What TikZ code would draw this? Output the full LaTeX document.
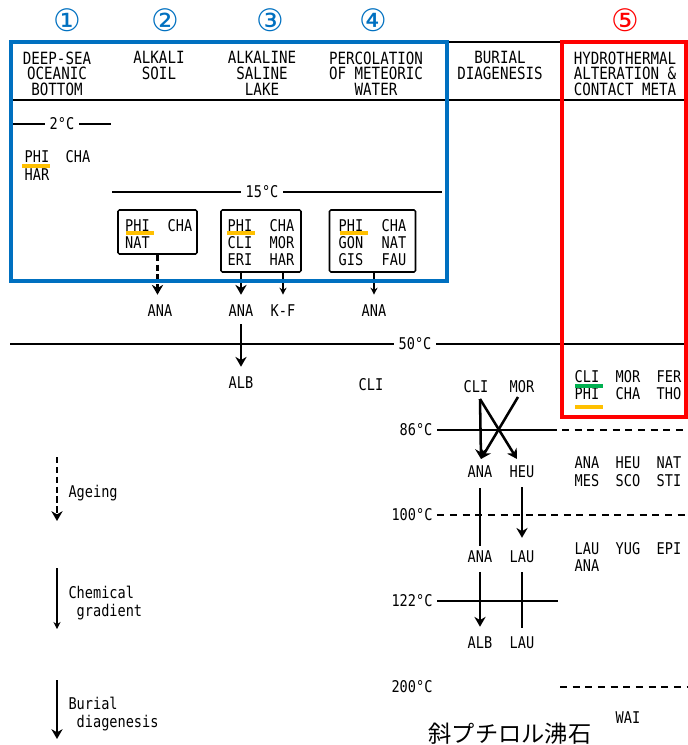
\documentclass[tikz,border=0pt]{standalone}
\usepackage{fontspec}
\newfontfamily\typo[FakeStretch=0.84]{DejaVu Sans Mono}
\newfontfamily\circfont{DejaVu Sans}
\newfontfamily\jpfont{Noto Sans CJK JP}
\usetikzlibrary{arrows.meta, positioning}
\definecolor{cblue}{HTML}{0070C0}
\definecolor{cred}{HTML}{FF0000}
\definecolor{cyellow}{HTML}{FFC000}
\definecolor{cgreen}{HTML}{00B050}
\tikzset{
  every picture/.style={line width=0.8pt},
  mine/.style={font=\typo\fontsize{11.5}{12.5}\selectfont, inner sep=1pt},
  hdr/.style={font=\typo\fontsize{12}{11.2}\selectfont, align=center, anchor=north, inner sep=0pt},
  note/.style={font=\typo\fontsize{11.5}{12.8}\selectfont, align=left, anchor=west, inner sep=0pt},
  temp/.style={mine, inner sep=3pt},
  circnum/.style={font=\circfont\fontsize{22}{22}\selectfont, inner sep=0pt},
  zbox/.style={draw, line width=1.1pt, rounded corners=1pt},
  rule/.style={line width=1.1pt},
  dashrule/.style={line width=1.1pt, dash pattern=on 5pt off 4pt},
  thickarrow/.style={-{Stealth[length=7pt, width=8pt]}, line width=1.8pt},
  thinarrow/.style={-{Stealth[length=5pt, width=5pt]}, line width=0.8pt},
  dasharrow/.style={thickarrow, dash pattern=on 4.5pt off 2.5pt},
  thickline/.style={line width=1.6pt},
  uline/.style={line width=2.2pt, draw=#1},
  uline/.default=cyellow,
}
\begin{document}
\begin{tikzpicture}[x=0.025cm, y=-0.025cm]
  \useasboundingbox (0,0) rectangle (688,745);
  % circled numbers
  \foreach \n/\x/\c [count=\i] in {①/67/cblue, ②/165/cblue, ③/270/cblue, ④/373/cblue, ⑤/625/cred}
    \node[circnum, text=\c] (num\i) at (\x,20) {\n};
  % header
  \draw[rule] (10,42) -- (688,42);
  \draw[rule] (10,100) -- (688,100);
  \node[hdr] (hDeep) at (57,51) {DEEP-SEA\\OCEANIC\\BOTTOM};
  \node[hdr] (hSoil) at (159,51) {ALKALI\\SOIL};
  \node[hdr] (hLake) at (262,51) {ALKALINE\\SALINE\\LAKE};
  \node[hdr] (hPerc) at (376,51) {PERCOLATION\\OF METEORIC\\WATER};
  \node[hdr] (hBur) at (500,51) {BURIAL\\DIAGENESIS};
  \node[hdr] (hHyd) at (625,51) {HYDROTHERMAL\\ALTERATION \&\\CONTACT META};
  % temperatures
  \node[temp] (t2) at (62,124) {2°C};
  \draw[rule] (13,124) -- (t2); \draw[rule] (t2) -- (111,124);
  \node[temp] (t15) at (262,192) {15°C};
  \draw[rule] (112,192) -- (t15); \draw[rule] (t15) -- (442,192);
  \node[temp] (t50) at (415,344) {50°C};
  \draw[rule] (10,344) -- (t50); \draw[rule] (t50) -- (688,344);
  \node[temp] (t86) at (416,430) {86°C};
  \draw[rule] (t86) -- (557,430); \draw[dashrule] (562,430) -- (688,430);
  \node[temp] (t100) at (412,515) {100°C};
  \draw[dashrule] (t100) -- (688,515);
  \node[temp] (t122) at (412,601) {122°C};
  \draw[rule] (t122) -- (558,601);
  \node[temp] (t200) at (412,687) {200°C};
  \draw[dashrule] (560,687) -- (688,687);
  % deep-sea
  \node[mine] (dPHI) at (37,157) {PHI};
  \node[mine] (dCHA) at (78,157) {CHA};
  \node[mine] (dHAR) at (37,175) {HAR};
  \draw[uline] (22,166) -- (50,166);
  % boxes
  \node[zbox, minimum width=1.975cm, minimum height=1.1cm] (boxA) at (157.5,232) {};
  \node[mine] (aPHI) at (137.5,226) {PHI};
  \node[mine] (aCHA) at (180,226) {CHA};
  \node[mine] (aNAT) at (137.5,243) {NAT};
  \draw[uline] (126,233) -- (154,233);
  \node[zbox, minimum width=2.0cm, minimum height=1.55cm] (boxB) at (261,241) {};
  \node[mine] (bPHI) at (240,226) {PHI};
  \node[mine] (bCHA) at (282,226) {CHA};
  \node[mine] (bCLI) at (240,243) {CLI};
  \node[mine] (bMOR) at (282,243) {MOR};
  \node[mine] (bERI) at (240,260) {ERI};
  \node[mine] (bHAR) at (282,260) {HAR};
  \draw[uline] (227,233) -- (255,233);
  \node[zbox, minimum width=2.15cm, minimum height=1.55cm] (boxC) at (372.5,241) {};
  \node[mine] (cPHI) at (351,226) {PHI};
  \node[mine] (cCHA) at (394,226) {CHA};
  \node[mine] (cGON) at (351,243) {GON};
  \node[mine] (cNAT) at (394,243) {NAT};
  \node[mine] (cGIS) at (351,260) {GIS};
  \node[mine] (cFAU) at (394,260) {FAU};
  \draw[uline] (340,233) -- (368,233);
  % products below boxes
  \node[mine] (aANA) at (160,311) {ANA};
  \node[mine] (bANA) at (241,311) {ANA};
  \node[mine] (bKF) at (283,311) {K-F};
  \node[mine] (cANA) at (374,311) {ANA};
  \node[mine] (bALB) at (241,383) {ALB};
  \node[mine] (xCLI) at (371,385) {CLI};
  \draw[dasharrow, shorten >=6pt] (boxA.south) -- (boxA.south |- aANA.north);
  \draw[thickarrow, shorten >=6pt] (boxB.south -| bANA) -- (bANA);
  \draw[thinarrow, shorten >=6pt] (boxB.south -| bKF) -- (bKF);
  \draw[thinarrow, shorten >=6pt] (boxC.south -| cANA) -- (cANA);
  \draw[thickarrow, shorten <=4pt, shorten >=6pt] (bANA) -- (bALB);
  % burial diagenesis
  \node[mine] (rCLI) at (476,387) {CLI};
  \node[mine] (rMOR) at (522,387) {MOR};
  \node[mine] (rANA1) at (480,472) {ANA};
  \node[mine] (rHEU) at (522,472) {HEU};
  \node[mine] (rANA2) at (480,557) {ANA};
  \node[mine] (rLAU1) at (522,557) {LAU};
  \node[mine] (rALB) at (480,643) {ALB};
  \node[mine] (rLAU2) at (522,643) {LAU};
  \coordinate (cliFoot) at (480,399);
  \coordinate (morFoot) at (518,397);
  \coordinate (heuTip) at (517,459);
  \coordinate (anaTip) at (481,459);
  \draw[thickarrow] (cliFoot) -- (anaTip);
  \draw[thickarrow] (cliFoot) -- (heuTip);
  \draw[thickarrow] (morFoot) -- (anaTip);
  \draw[thickline, shorten <=6pt, shorten >=2pt] (rANA1) -- (rANA2);
  \draw[thickarrow, shorten <=5pt, shorten >=8pt] (rHEU) -- (rLAU1);
  \draw[thickarrow, shorten <=5pt, shorten >=6pt] (rANA2) -- (rALB);
  \draw[thickline, shorten <=5pt, shorten >=5pt] (rLAU1) -- (rLAU2);
  % hydrothermal
  \node[mine] (hCLI) at (587,377) {CLI};
  \node[mine] (hMOR) at (628,377) {MOR};
  \node[mine] (hFER) at (669,377) {FER};
  \node[mine] (hPHI) at (587,394) {PHI};
  \node[mine] (hCHA) at (628,394) {CHA};
  \node[mine] (hTHO) at (669,394) {THO};
  \draw[uline=cgreen] (575,386) -- (603,386);
  \draw[uline] (575,407) -- (603,407);
  \node[mine] (hANA) at (587,463) {ANA};
  \node[mine] (hHEU) at (628,463) {HEU};
  \node[mine] (hNAT) at (669,463) {NAT};
  \node[mine] (hMES) at (587,481) {MES};
  \node[mine] (hSCO) at (628,481) {SCO};
  \node[mine] (hSTI) at (669,481) {STI};
  \node[mine] (hLAU) at (587,549) {LAU};
  \node[mine] (hYUG) at (628,549) {YUG};
  \node[mine] (hEPI) at (669,549) {EPI};
  \node[mine] (hANAb) at (587,566) {ANA};
  \node[mine] (hWAI) at (628,718) {WAI};
  % legend arrows
  \coordinate (ageS) at (57,457); \coordinate (ageE) at (57,521);
  \draw[dasharrow] (ageS) -- (ageE);
  \node[note] (lAge) at (68,493) {Ageing};
  \coordinate (chemS) at (57,568); \coordinate (chemE) at (57,629);
  \draw[thinarrow] (chemS) -- (chemE);
  \node[note] (lChem) at (68,603) {Chemical\\~gradient};
  \coordinate (burS) at (57,680); \coordinate (burE) at (57,739);
  \draw[thickarrow] (burS) -- (burE);
  \node[note] (lBur) at (68,714) {Burial\\~diagenesis};
  % japanese name
  \node[font=\jpfont\fontsize{16.5}{17}\selectfont, inner sep=0pt] (jpName) at (510,734) {斜プチロル沸石};
  % coloured frames
  \draw[cblue, line width=2.2pt] (11,42) rectangle (447,281);
  \draw[cred, line width=2.2pt] (562,42) rectangle (686,417);
\end{tikzpicture}
\end{document}
